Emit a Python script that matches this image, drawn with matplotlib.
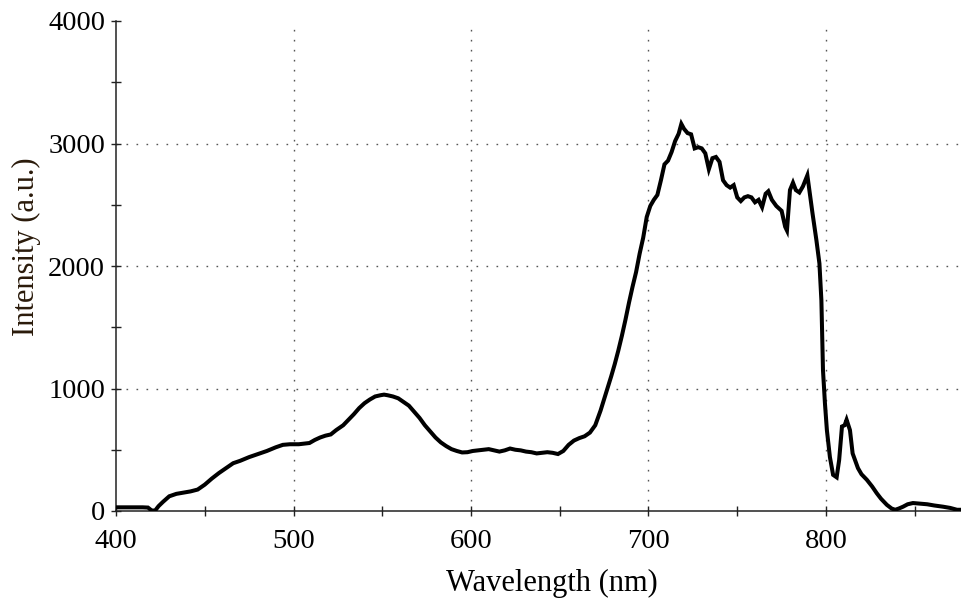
import matplotlib
matplotlib.use("Agg")
import matplotlib.pyplot as plt
from matplotlib.ticker import MultipleLocator

# Emission spectrum: wavelength (nm) and intensity (a.u.)
wavelength = [400, 405, 410, 415, 418, 420, 422, 424, 426.5, 430, 434, 438, 442, 446,
              450, 454, 458, 462, 466, 470, 475, 480, 485, 490, 494, 498, 503, 506,
              509, 512, 515, 518, 521, 524, 528, 531, 534, 537, 540, 543, 546, 549,
              551, 553, 556, 559, 562, 565, 568, 571, 574, 577, 580, 583, 586, 589,
              592, 595, 598, 601, 604, 607, 610, 613, 616, 619, 622, 625, 628, 631,
              634, 637, 640, 643, 646, 649, 652, 655, 658, 661, 664, 667, 670, 673,
              676, 679, 681, 683, 685, 687, 689, 691, 693, 695, 697, 699, 701, 703,
              705, 707, 709, 711, 713, 715, 717, 718.5, 720, 722, 724, 726, 728, 730,
              732, 734, 736, 738, 740, 742, 744, 746, 748, 750, 752, 754, 756, 758,
              760, 762, 764, 766, 767.5, 769.5, 772, 775, 777, 778, 779.7, 781.4, 783,
              785, 787, 789.5, 790.8, 792.4, 794.6, 796.3, 797.4, 798.3, 799.4, 800.5,
              802.2, 804, 806, 807.4, 809, 810.5, 811.6, 813.5, 815, 818, 820, 823,
              826, 828.6, 831, 834.3, 837, 839, 841, 843.4, 846, 849, 853, 857, 861,
              866, 870, 873.8, 877]
intensity = [30, 30, 30, 30, 28, 5, 3, 40, 75, 120, 140, 150, 160, 175,
             215, 265, 310, 350, 390, 410, 440, 465, 490, 520, 540, 545, 545, 550,
             555, 580, 600, 615, 625, 660, 700, 745, 790, 840, 880, 910, 935, 945,
             950, 945, 935, 920, 890, 860, 810, 760, 700, 650, 600, 560, 530, 505,
             490, 478, 480, 490, 495, 500, 505, 495, 485, 495, 510, 500, 495, 485,
             480, 470, 475, 480, 475, 465, 490, 540, 575, 595, 610, 640, 700, 820,
             960, 1100, 1200, 1310, 1430, 1560, 1700, 1830, 1950, 2100, 2230, 2400, 2490, 2540,
             2580, 2700, 2830, 2860, 2930, 3020, 3080, 3160, 3120, 3085, 3075, 2960, 2970, 2960,
             2920, 2790, 2880, 2890, 2850, 2700, 2660, 2640, 2660, 2560, 2530, 2560, 2570, 2560,
             2520, 2540, 2480, 2590, 2610, 2540, 2490, 2450, 2320, 2290, 2620, 2680, 2620,
             2600, 2650, 2740, 2600, 2430, 2210, 2020, 1720, 1150, 880, 660,
             440, 295, 275, 415, 690, 700, 745, 660, 470, 350, 300, 255,
             200, 145, 100, 50, 20, 10, 20, 35, 55, 65, 60, 55, 45,
             35, 25, 10, 10]

x_grid = [500, 600, 700, 800]
y_grid = [1000, 2000, 3000]

plt.rcParams["font.family"] = ["Liberation Serif", "DejaVu Serif"]

W, H = 962, 601
fig = plt.figure(figsize=(W / 100, H / 100), dpi=100)
ax = fig.add_axes([116 / W, (H - 511) / H, (W - 116) / W, (511 - 21) / H])

grid_style = dict(color="#555555", linestyle=(0, (1.2, 6)), linewidth=1.0, zorder=1)
for gx in x_grid:
    ax.axvline(gx, **grid_style)
for gy in y_grid:
    ax.axhline(gy, **grid_style)

ax.plot(wavelength, intensity, color="black", linewidth=2.9, zorder=3,
        solid_joinstyle="miter")

ax.set_xlim(400, 400 + (W - 116) / 1.775)
ax.set_ylim(0, 4000)
ax.xaxis.set_major_locator(MultipleLocator(100))
ax.xaxis.set_minor_locator(MultipleLocator(50))
ax.yaxis.set_major_locator(MultipleLocator(1000))
ax.yaxis.set_minor_locator(MultipleLocator(500))

for side in ("top", "right"):
    ax.spines[side].set_visible(False)
for side in ("left", "bottom"):
    ax.spines[side].set_linewidth(1.1)
    ax.spines[side].set_color("#222222")

ax.tick_params(which="both", direction="inout", length=6.5, width=1.0, color="#222222")
ax.tick_params(axis="x", which="major", labelsize=20.5, pad=10)
ax.tick_params(axis="y", which="major", labelsize=20.5, pad=4.5)

# Axis titles placed as figure text
fig.text(552 / W, 1 - 583 / H, "Wavelength (nm)", fontsize=22,
         ha="center", va="center")
fig.text(26 / W, 1 - 247 / H, "Intensity (a.u.)", fontsize=22, rotation=90,
         ha="center", va="center", color="#2a1a0a")

fig.savefig("out.png", dpi=100)
